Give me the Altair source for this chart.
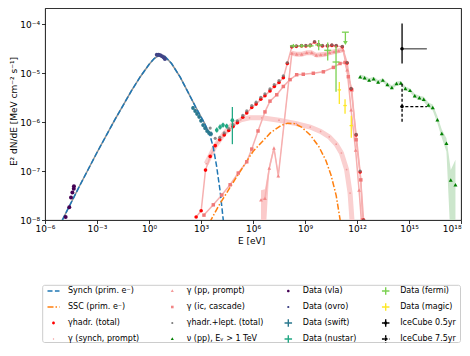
import altair as alt
import numpy as np
import pandas as pd

FONT = "DejaVu Sans"

# ---------------- data (log10 E [eV], log10 E^2 dN/dE [MeV cm^-2 s^-1]) ----------------
x_tick_exp = [-6, -3, 0, 3, 6, 9, 12, 15, 18]
x_tick_labels = ["10⁻⁶", "10⁻³", "10⁰", "10³", "10⁶", "10⁹", "10¹²", "10¹⁵", "10¹⁸"]
y_tick_exp = [-8, -7, -6, -5, -4]
y_tick_labels = ["10⁻⁸", "10⁻⁷", "10⁻⁶", "10⁻⁵", "10⁻⁴"]

synch_lx = [-5.0, -4.0, -3.0, -2.0, -1.0, -0.5, 0.0, 0.3, 0.6, 0.9, 1.3, 1.8, 2.3, 2.75, 3.2, 3.5, 3.7, 3.9, 4.1, 4.3]
synch_ly = [-8.0, -7.3, -6.62, -5.97, -5.35, -5.07, -4.82, -4.70, -4.63, -4.65, -4.80, -5.08, -5.42, -5.73, -6.02, -6.25, -6.5, -6.9, -7.4, -8.05]

ssc_lx = [3.5, 4.0, 5.0, 6.0, 7.0, 7.6, 8.0, 8.4, 8.8, 9.3, 9.8, 10.2, 10.5, 10.8, 11.05]
ssc_ly = [-8.05, -7.72, -7.15, -6.6, -6.22, -6.07, -6.02, -6.03, -6.1, -6.26, -6.5, -6.78, -7.08, -7.5, -8.05]

sp_lx = [3.3, 3.8, 4.3, 4.8, 5.3, 5.8, 6.5, 7.5, 8.5, 9.3, 9.9, 10.4, 10.8, 11.1, 11.4, 11.6, 11.72]
sp_ly = [-6.85, -6.5, -6.25, -6.05, -5.95, -5.91, -5.91, -5.96, -6.03, -6.1, -6.19, -6.3, -6.45, -6.63, -6.97, -7.45, -8.05]

pp_lx = [6.46, 6.69, 6.94, 7.21, 7.46, 8.24, 8.52, 8.81, 9.10, 9.39, 9.65, 9.91, 10.16, 10.42, 10.68, 10.94, 11.2, 11.43, 11.66, 11.92, 12.12, 12.26]
pp_ly = [-7.59, -7.56, -6.94, -6.53, -7.10, -4.59, -4.61, -4.61, -4.58, -4.58, -4.63, -4.62, -4.61, -4.58, -4.56, -4.54, -4.52, -4.93, -5.75, -6.57, -7.39, -8.05]
pp_lo = [-8.5, -8.5, -7.0, -6.58, -7.16, -4.64, -4.66, -4.66, -4.63, -4.63, -4.68, -4.67, -4.66, -4.63, -4.61, -4.59, -4.57, -4.98, -5.8, -6.62, -7.44, -8.1]
pp_hi = [-7.39, -7.37, -6.86, -6.47, -7.02, -4.54, -4.56, -4.56, -4.53, -4.53, -4.58, -4.57, -4.56, -4.53, -4.51, -4.49, -4.47, -4.88, -5.7, -6.52, -7.34, -8.0]

ic_lx = [3.17, 3.71, 4.20, 4.68, 5.15, 5.64, 5.93, 6.29, 6.69, 6.98, 7.37, 7.75, 8.14, 8.52, 8.9, 9.48, 10.06, 10.64, 11.02, 11.31, 11.5, 11.7, 11.95, 12.22, 12.32]
ic_ly = [-7.90, -7.69, -7.49, -7.28, -7.04, -6.81, -6.55, -6.18, -5.79, -5.57, -5.44, -5.27, -5.13, -5.03, -5.02, -5.0, -4.97, -4.88, -4.80, -4.78, -5.07, -5.34, -6.36, -7.18, -8.0]

red_lx = [2.72, 3.01, 3.26, 3.53, 3.82, 4.08, 4.34, 4.6, 4.85, 5.10, 5.41, 5.64, 5.93, 6.18, 6.45, 6.69, 6.98, 7.23, 7.50, 7.75, 7.98, 8.24, 8.5, 8.8, 9.05, 9.3, 9.55, 9.78, 10.0, 10.3, 10.55, 10.8, 11.15, 11.43, 11.66, 11.95, 12.18, 12.38]
red_ly = [-7.94, -7.81, -6.98, -6.70, -6.48, -6.36, -6.26, -6.17, -6.09, -6.01, -5.90, -5.81, -5.70, -5.63, -5.53, -5.46, -5.36, -5.27, -5.19, -5.09, -4.80, -4.46, -4.45, -4.44, -4.44, -4.43, -4.36, -4.42, -4.44, -4.44, -4.43, -4.44, -4.46, -4.79, -5.32, -6.26, -7.02, -8.0]

grey_lx = [3.53, 3.82, 4.08, 4.34, 4.6, 4.85, 5.10, 5.41, 5.64, 5.93, 6.18, 6.45, 6.69, 6.98, 7.23, 7.50, 7.75, 7.98, 8.24, 8.5, 8.8, 9.05, 9.3, 9.55, 9.78, 10.0, 10.3, 10.55, 10.8, 11.15, 11.43, 11.66, 11.95, 12.18, 12.38]
grey_ly = [-6.12, -6.33, -6.31, -6.22, -6.13, -6.05, -5.97, -5.86, -5.77, -5.66, -5.59, -5.49, -5.42, -5.32, -5.23, -5.15, -5.05, -4.78, -4.45, -4.44, -4.43, -4.43, -4.42, -4.35, -4.41, -4.43, -4.43, -4.42, -4.43, -4.45, -4.78, -5.31, -6.25, -7.0, -8.0]

nu_lx = [12.18, 12.44, 12.70, 12.96, 13.22, 13.49, 13.75, 14.01, 14.28, 14.53, 14.79, 15.06, 15.33, 15.60, 15.85, 16.12, 16.37, 16.64, 16.89, 17.16, 17.41, 17.68]
nu_ly = [-5.07, -5.09, -5.14, -5.11, -5.18, -5.14, -5.23, -5.29, -5.21, -5.20, -5.31, -5.35, -5.46, -5.50, -5.53, -5.65, -5.70, -5.95, -6.23, -6.43, -7.18, -7.28]
nu_lo = [-5.11, -5.13, -5.18, -5.15, -5.22, -5.18, -5.27, -5.33, -5.25, -5.24, -5.35, -5.39, -5.50, -5.54, -5.58, -5.70, -5.76, -6.02, -6.32, -6.6, -8.5, -8.5]
nu_hi = [-5.03, -5.05, -5.10, -5.07, -5.14, -5.10, -5.19, -5.25, -5.17, -5.16, -5.27, -5.31, -5.42, -5.46, -5.48, -5.60, -5.64, -5.88, -6.15, -6.33, -6.98, -6.77]

vla_lx = [-4.81, -4.60, -4.50, -4.42, -4.34, -4.33]
vla_ly = [-7.94, -7.74, -7.54, -7.44, -7.36, -7.31]

ovro_lx = [0.45, 0.55, 0.65, 0.75, 0.85, 0.92]
ovro_ly = [-4.62, -4.62, -4.63, -4.65, -4.68, -4.71]

swift_lx = [2.54, 2.66, 2.77, 2.89, 3.0, 3.12, 3.23, 3.35, 3.46, 3.58]
swift_ly = [-5.71, -5.77, -5.83, -5.89, -5.97, -6.06, -6.12, -6.18, -6.22, -6.24]
swift_lo = [-5.75, -5.81, -5.87, -5.93, -6.01, -6.10, -6.16, -6.22, -6.27, -6.29]
swift_hi = [-5.67, -5.73, -5.79, -5.85, -5.93, -6.02, -6.08, -6.14, -6.17, -6.19]

nustar_lx = [3.91, 4.10, 4.27, 4.48, 4.81]
nustar_ly = [-6.16, -6.10, -6.06, -6.08, -5.96]
nustar_lo = [-6.21, -6.15, -6.11, -6.13, -6.45]
nustar_hi = [-6.11, -6.05, -6.01, -6.03, -5.69]

fermi_lx = [8.33, 8.81, 9.29, 9.79, 10.31, 10.79]
fermi_ly = [-4.44, -4.44, -4.44, -4.42, -4.53, -4.77]
fermi_lo = [-4.48, -4.48, -4.48, -4.53, -4.74, -5.38]
fermi_hi = [-4.40, -4.40, -4.40, -4.32, -4.37, -4.44]
fermi_xlo = [8.13, 8.61, 9.09, 9.59, 10.11, 10.59]
fermi_xhi = [8.53, 9.01, 9.49, 9.99, 10.51, 10.99]
fermi_ul_lx = [11.33]
fermi_ul_ly = [-4.16]
fermi_ul_tip = [-4.38]
fermi_ul_xlo = [11.13]
fermi_ul_xhi = [11.53]

magic_lx = [10.98, 11.31, 11.67]
magic_ly = [-5.34, -5.66, -6.07]
magic_lo = [-5.63, -5.83, -6.32]
magic_hi = [-5.18, -5.53, -5.87]
magic_xlo = [10.88, 11.21, 11.57]
magic_xhi = [11.08, 11.41, 11.77]

ic05_lx, ic05_ly = [14.6], [-4.50]
ic05_lo, ic05_hi = [-4.80], [-3.98]
ic05_xlo, ic05_xhi = [14.5], [16.03]
ic75_lx, ic75_ly = [14.6], [-5.68]
ic75_lo, ic75_hi = [-5.99], [-5.20]
ic75_xlo, ic75_xhi = [14.5], [16.03]

# legend entries (4 columns)
leg_cols = [
    ["Synch (prim. e⁻)", "SSC (prim. e⁻)", "γhadr. (total)", "γ (synch, prompt)"],
    ["γ (pp, prompt)", "γ (ic, cascade)", "γhadr.+lept. (total)", "ν (pp), Eᵥ > 1 TeV"],
    ["Data (vla)", "Data (ovro)", "Data (swift)", "Data (nustar)"],
    ["Data (fermi)", "Data (magic)", "IceCube 0.5yr", "IceCube 7.5yr"],
]

# ---------------- helpers ----------------
def P(v):
    return 10.0 ** np.array(v, dtype=float)


def frame(lx, ly, **extra):
    d = pd.DataFrame({"E": P(lx), "F": P(ly)})
    for k, v in extra.items():
        d[k] = P(v)
    return d


def label_expr(exps, labels):
    s = "''"
    for e, l in zip(reversed(exps), reversed(labels)):
        s = f"(round(log(datum.value)/LN10) == {e} ? '{l}' : {s})"
    return s


XS = alt.Scale(type="log", domain=[1e-6, 1e18], nice=False, zero=False)
YS = alt.Scale(type="log", domain=[1e-8, 2.16e-4], nice=False, zero=False)

XAX = alt.Axis(
    values=[float(10.0 ** e) for e in x_tick_exp], labelExpr=label_expr(x_tick_exp, x_tick_labels),
    grid=False, domain=False, tickSize=3.5, tickColor="black", tickWidth=0.8,
    labelFont=FONT, labelFontSize=9, labelColor="black", labelPadding=1,
    labelFlush=False, labelOverlap=False, labelBound=False,
    labelAlign={"condition": {"test": "datum.value > 1e17", "value": "right"}, "value": "center"},
    title="E [eV]", titleFont=FONT, titleFontSize=9, titleFontWeight="normal", titleColor="black",
    titleX=206, titleY=16, titleBaseline="top", titleAlign="center",
)
YAX = alt.Axis(
    values=[float(10.0 ** e) for e in y_tick_exp], labelExpr=label_expr(y_tick_exp, y_tick_labels),
    grid=False, domain=False, tickSize=3.5, tickColor="black", tickWidth=0.8,
    labelFont=FONT, labelFontSize=9, labelColor="black", labelPadding=2,
    labelFlush=False, labelOverlap=False, labelBound=False,
    title="E² dN/dE [MeV cm⁻² s⁻¹]", titleFont=FONT, titleFontSize=9, titleFontWeight="normal",
    titleColor="black", titleX=-27, titleY=103, titleBaseline="bottom", titleAlign="center", titleAngle=270,
)


def X(f="E"):
    return alt.X(f"{f}:Q", scale=XS, axis=XAX)


def Y(f="F"):
    return alt.Y(f"{f}:Q", scale=YS, axis=YAX)


def line(d, color, width, dash=None):
    kw = dict(clip=True, color=color, strokeWidth=width)
    if dash:
        kw["strokeDash"] = dash
    return alt.Chart(d).mark_line(**kw).encode(x=X(), y=Y())


def pts(d, color, shape, size, opacity=1.0):
    return alt.Chart(d).mark_point(
        clip=True, filled=True, color=color, shape=shape, size=size, opacity=opacity, strokeWidth=0
    ).encode(x=X(), y=Y())


def band(d, color):
    return alt.Chart(d).mark_area(clip=True, color=color, opacity=1).encode(x=X(), y=Y("lo"), y2=alt.Y2("hi:Q"))


def vbar(d, color, width=1.3, dash=None):
    kw = dict(clip=True, color=color, strokeWidth=width)
    if dash:
        kw["strokeDash"] = dash
    return alt.Chart(d).mark_rule(**kw).encode(x=X(), y=Y("lo"), y2=alt.Y2("hi:Q"))


def hbar(d, color, width=1.3, dash=None):
    kw = dict(clip=True, color=color, strokeWidth=width)
    if dash:
        kw["strokeDash"] = dash
    return alt.Chart(d).mark_rule(**kw).encode(x=X("xlo"), x2=alt.X2("xhi:Q"), y=Y())


# ---------------- frames ----------------
synch = frame(synch_lx, synch_ly)
synch_grey = synch[synch["E"] <= 10 ** 3.55]
ssc = frame(ssc_lx, ssc_ly)
sp = frame(sp_lx, sp_ly)
pp = frame(pp_lx, pp_ly, lo=pp_lo, hi=pp_hi)
ic = frame(ic_lx, ic_ly)
red = frame(red_lx, red_ly)
grey = frame(grey_lx, grey_ly)
nu = frame(nu_lx, nu_ly, lo=nu_lo, hi=nu_hi)
vla = frame(vla_lx, vla_ly)
ovro = frame(ovro_lx, ovro_ly)
swift = frame(swift_lx, swift_ly, lo=swift_lo, hi=swift_hi)
nustar = frame(nustar_lx, nustar_ly, lo=nustar_lo, hi=nustar_hi)
fermi = frame(fermi_lx, fermi_ly, lo=fermi_lo, hi=fermi_hi, xlo=fermi_xlo, xhi=fermi_xhi)
ful = frame(fermi_ul_lx, fermi_ul_ly, lo=fermi_ul_tip, hi=fermi_ul_ly, xlo=fermi_ul_xlo, xhi=fermi_ul_xhi)
ful_tip = frame(fermi_ul_lx, fermi_ul_tip)
magic = frame(magic_lx, magic_ly, lo=magic_lo, hi=magic_hi, xlo=magic_xlo, xhi=magic_xhi)
ic05 = frame(ic05_lx, ic05_ly, lo=ic05_lo, hi=ic05_hi, xlo=ic05_xlo, xhi=ic05_xhi)
ic75 = frame(ic75_lx, ic75_ly, lo=ic75_lo, hi=ic75_hi, xlo=ic75_xlo, xhi=ic75_xhi)

PINK_LINE = "#f6b0b0"

layers = [
    band(nu, "#cce6cc"),
    band(pp, "#fbcaca"),
    line(sp, "#fad0d0", 5),
    line(ic, PINK_LINE, 1.5),
    line(pp, PINK_LINE, 1.5),
    line(red, PINK_LINE, 1.5),
    line(synch_grey, "#909090", 1.5),
    line(synch, "#1f77b4", 1.5, [5.5, 2.4]),
    line(ssc, "#ff7f0e", 1.5, [6, 2, 1.5, 2]),
    pts(sp, "#f39a9a", "circle", 3),
    pts(pp, "#f28a8a", "triangle-up", 14),
    pts(ic, "#f07878", "square", 12),
    pts(red, "#ff0000", "circle", 13),
    pts(grey, "#707070", "circle", 10, 0.8),
    pts(nu, "#008000", "triangle-up", 16),
    pts(vla, "#440154", "circle", 16),
    pts(ovro, "#414487", "circle", 16),
    vbar(swift, "#2a788e", 1.0),
    pts(swift, "#2a788e", "circle", 14),
    vbar(nustar, "#22a884", 1.3),
    pts(nustar, "#22a884", "circle", 14),
    vbar(fermi, "#7ad151", 1.3),
    hbar(fermi, "#7ad151", 1.3),
    vbar(ful, "#7ad151", 1.3),
    hbar(ful, "#7ad151", 1.3),
    pts(ful_tip, "#7ad151", "triangle-down", 22),
    vbar(magic, "#fde725", 1.3),
    hbar(magic, "#fde725", 1.3),
    vbar(ic05, "black", 1.3),
    hbar(ic05, "#555555", 1.3),
    pts(ic05, "black", "circle", 12),
    vbar(ic75, "black", 1.3, [3, 2]),
    hbar(ic75, "black", 1.3, [3, 2]),
    pts(ic75, "black", "circle", 12),
]

# ---------------- legend ----------------
BOX = "M-0.9,-0.9M0.9,0.9"  # invisible extent so every legend row has the same height
LINE = "M-1.2,0H1.2" + BOX


def circ(r):
    return f"M-{r},0A{r},{r} 0 1,0 {r},0A{r},{r} 0 1,0 -{r},0Z" + BOX


CROSS = "M-0.75,0H0.75M0,-0.75V0.75" + BOX
CROSS_DOT = "M-0.75,0H0.75M0,-0.75V0.75M-0.12,-0.12H0.12V0.12H-0.12Z" + BOX
TRI = "M0,-0.33L0.31,0.21L-0.31,0.21Z" + BOX
SQ = "M-0.26,-0.26H0.26V0.26H-0.26Z" + BOX
T = "transparent"
SOLID = [1, 0]

leg_specs = [
    dict(shapes=[LINE, LINE, circ(0.29), circ(0.15)],
         fills=[T, T, "#ff0000", "#f39a9a"],
         strokes=["#1f77b4", "#ff7f0e", T, T],
         dashes=[[5, 2.4], [6, 2, 1.5, 2], SOLID, SOLID], x=2.5),
    dict(shapes=[TRI, SQ, circ(0.21), TRI],
         fills=["#f49a9a", "#f28585", "#808080", "#008000"],
         strokes=[T, T, T, T],
         dashes=[SOLID, SOLID, SOLID, SOLID], x=121.3),
    dict(shapes=[circ(0.27), circ(0.22), CROSS, CROSS],
         fills=["#440154", "#414487", T, T],
         strokes=[T, T, "#2a788e", "#22a884"],
         dashes=[SOLID, SOLID, SOLID, SOLID], x=237.3),
    dict(shapes=[CROSS, CROSS, CROSS_DOT, CROSS_DOT],
         fills=[T, T, "black", "black"],
         strokes=["#7ad151", "#fde725", "black", "black"],
         dashes=[SOLID, SOLID, SOLID, [2.2, 1.3]], x=334.7),
]

LEG_Y = 277
for labels, spec in zip(leg_cols, leg_specs):
    L = alt.Legend(
        orient="none", legendX=spec["x"], legendY=LEG_Y, title=None, padding=0,
        labelFont=FONT, labelFontSize=8, labelColor="black", labelOffset=8.5,
        rowPadding=0, symbolStrokeWidth=1.4, labelLimit=200,
    )
    ldf = pd.DataFrame({"label": labels, "E": [1e-12] * 4, "F": [1e-12] * 4})
    layers.append(
        alt.Chart(ldf).mark_point(size=196, filled=False, opacity=1, strokeWidth=1.4, clip=True).encode(
            x=X(), y=Y(),
            fill=alt.Fill("label:N", scale=alt.Scale(domain=labels, range=spec["fills"]), legend=L),
            stroke=alt.Stroke("label:N", scale=alt.Scale(domain=labels, range=spec["strokes"]), legend=L),
            shape=alt.Shape("label:N", scale=alt.Scale(domain=labels, range=spec["shapes"]), legend=L),
            strokeDash=alt.StrokeDash("label:N", scale=alt.Scale(domain=labels, range=spec["dashes"]), legend=L),
        )
    )

# legend frame
layers.append(
    alt.Chart(pd.DataFrame({"a": [0]})).mark_rect(
        fillOpacity=0, stroke="#cccccc", strokeWidth=1, cornerRadius=2, clip=False
    ).encode(x=alt.value(-2.3), x2=alt.value(415.5), y=alt.value(LEG_Y + 0.3), y2=alt.value(LEG_Y + 57.5))
)

chart = (
    alt.layer(*layers)
    .resolve_scale(fill="independent", stroke="independent", shape="independent", strokeDash="independent")
    .properties(
        width=416, height=212,
        padding={"left": 37, "top": 0, "right": 1, "bottom": 123},
        autosize=alt.AutoSizeParams(type="none"),
    )
    .configure_view(stroke="black", strokeWidth=0.9)
)

chart.save("out.html", embed_options={"renderer": "svg", "actions": False})
